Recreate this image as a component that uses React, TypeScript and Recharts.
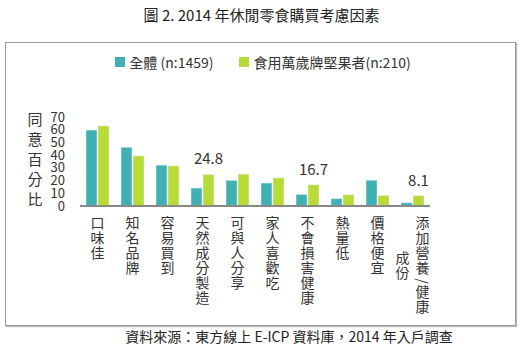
import { BarChart, Bar, XAxis, YAxis, Legend, LabelList } from "recharts";

const CATEGORIES = [
  "口味佳",
  "知名品牌",
  "容易買到",
  "天然成分製造",
  "可與人分享",
  "家人喜歡吃",
  "不會損害健康",
  "熱量低",
  "價格便宜",
  "添加營養/健康\n成份",
];
const ALL_VALUES = [59.7, 46.2, 32.1, 14.1, 20.2, 18.1, 9.1, 5.8, 20.3, 2.6];
const NUT_VALUES = [63.0, 39.4, 31.5, 24.8, 25.1, 22.1, 16.7, 8.9, 8.3, 8.1];
const LABELED = [3, 6, 9];
const Y_TICKS = [0, 10, 20, 30, 40, 50, 60, 70];

const SERIES = [
  { key: "all", label: "全體 (n:1459)", color: "#40B0B4" },
  { key: "nut", label: "食用萬歲牌堅果者(n:210)", color: "#B8DB38" },
];

const FONT = '"Noto Sans CJK TC", "Noto Sans", sans-serif';

const data = CATEGORIES.map((name, i) => ({
  name,
  all: ALL_VALUES[i],
  nut: NUT_VALUES[i],
}));

// one <text> per character, stacked top to bottom; "\n" starts a new column to the left
function VerticalTick(props: any) {
  const { x, y, payload } = props;
  const cols: string[] = String(payload.value).split("\n");
  const colLen = (s: string) =>
    Array.from(s).reduce((a, c) => a + (c === "/" ? 9 : 15), 0);
  const maxLen = Math.max(...cols.map(colLen));
  const colGap = 20;
  const first = x + ((cols.length - 1) * colGap) / 2;
  return (
    <g>
      {cols.map((col, ci) => {
        const cx = first - ci * colGap;
        let cy = y + 2 + (maxLen - colLen(col)) / 2;
        return Array.from(col).map((ch, k) => {
          const step = ch === "/" ? 9 : 15;
          const node =
            ch === "/" ? (
              <text
                key={`${ci}-${k}`}
                x={cx}
                y={cy + 5}
                textAnchor="middle"
                dominantBaseline="central"
                transform={`rotate(90 ${cx} ${cy + 5})`}
                fontSize={14}
                fill="#333"
                fontFamily={FONT}
              >
                /
              </text>
            ) : (
              <text
                key={`${ci}-${k}`}
                x={cx}
                y={cy + 12}
                textAnchor="middle"
                fontSize={14}
                fill="#333"
                fontFamily={FONT}
              >
                {ch}
              </text>
            );
          cy += step;
          return node;
        });
      })}
    </g>
  );
}

function YLabel(props: any) {
  const { viewBox } = props;
  const chars = Array.from("同意百分比");
  const cx = viewBox.x - 5;
  const cy = viewBox.y + viewBox.height / 2;
  const step = 20;
  const start = cy - ((chars.length - 1) * step) / 2 - 3;
  return (
    <g>
      {chars.map((ch, i) => (
        <text
          key={i}
          x={cx}
          y={start + i * step}
          textAnchor="middle"
          dominantBaseline="central"
          fontSize={15}
          fill="#333"
          fontFamily={FONT}
        >
          {ch}
        </text>
      ))}
    </g>
  );
}

function LegendBox(props: any) {
  const { payload } = props;
  return (
    <div style={{ display: "flex", justifyContent: "center", gap: 26, fontFamily: FONT, fontSize: 14, color: "#333" }}>
      {(payload || []).map((p: any) => (
        <div key={p.value} style={{ display: "flex", alignItems: "center", gap: 4 }}>
          <span style={{ width: 10, height: 10, background: p.color, display: "inline-block" }} />
          <span>{p.value}</span>
        </div>
      ))}
    </div>
  );
}

function NutLabel(props: any) {
  const { x, y, width, value, index } = props;
  if (!LABELED.includes(index)) return null;
  return (
    <text
      x={x + width / 2}
      y={y - 10}
      textAnchor="middle"
      fontSize={15}
      fill="#333"
      fontFamily={FONT}
    >
      {value}
    </text>
  );
}

export default function App() {
  return (
    <div style={{ position: "absolute", left: 0, top: 0, width: 523, height: 361, background: "#fff", fontFamily: FONT }}>
      <div style={{ position: "absolute", top: 4, left: 0, width: 523, textAlign: "center", fontSize: 15, color: "#222" }}>
        圖 2. 2014 年休閒零食購買考慮因素
      </div>
      <div
        style={{
          position: "absolute",
          left: 5,
          top: 42,
          width: 509,
          height: 282,
          border: "1px solid #999",
          boxShadow: "1px 1px 1px #bbb",
        }}
      />
      <div style={{ position: "absolute", left: 0, top: 0 }}>
        <BarChart
          width={523}
          height={361}
          data={data}
          margin={{ top: 97, right: 93, left: 40, bottom: 25 }}
          barSize={11}
          barGap={1}
        >
          <XAxis
            dataKey="name"
            interval={0}
            tickLine={false}
            axisLine={{ stroke: "#888", strokeWidth: 2 }}
            tick={<VerticalTick />}
            height={130}
          />
          <YAxis
            width={40}
            domain={[0, 70]}
            ticks={Y_TICKS}
            interval={0}
            tickLine={false}
            axisLine={false}
            tick={{ fontSize: 13, fill: "#333", fontFamily: FONT }}
            tickMargin={9}
            label={<YLabel />}
          />
          <Legend
            verticalAlign="top"
            content={<LegendBox />}
            wrapperStyle={{ top: 52, left: 103, width: 320 }}
          />
          {SERIES.map((s) => (
            <Bar
              key={s.key}
              dataKey={s.key}
              name={s.label}
              fill={s.color}
              stroke="#e8f4f0"
              strokeWidth={0.5}
              isAnimationActive={false}
            >
              {s.key === "nut" && <LabelList dataKey="nut" content={<NutLabel />} />}
            </Bar>
          ))}
        </BarChart>
      </div>
      <div style={{ position: "absolute", top: 326, left: 0, width: 578, textAlign: "center", fontSize: 14, color: "#222" }}>
        資料來源：東方線上 E-ICP 資料庫，2014 年入戶調查
      </div>
    </div>
  );
}
